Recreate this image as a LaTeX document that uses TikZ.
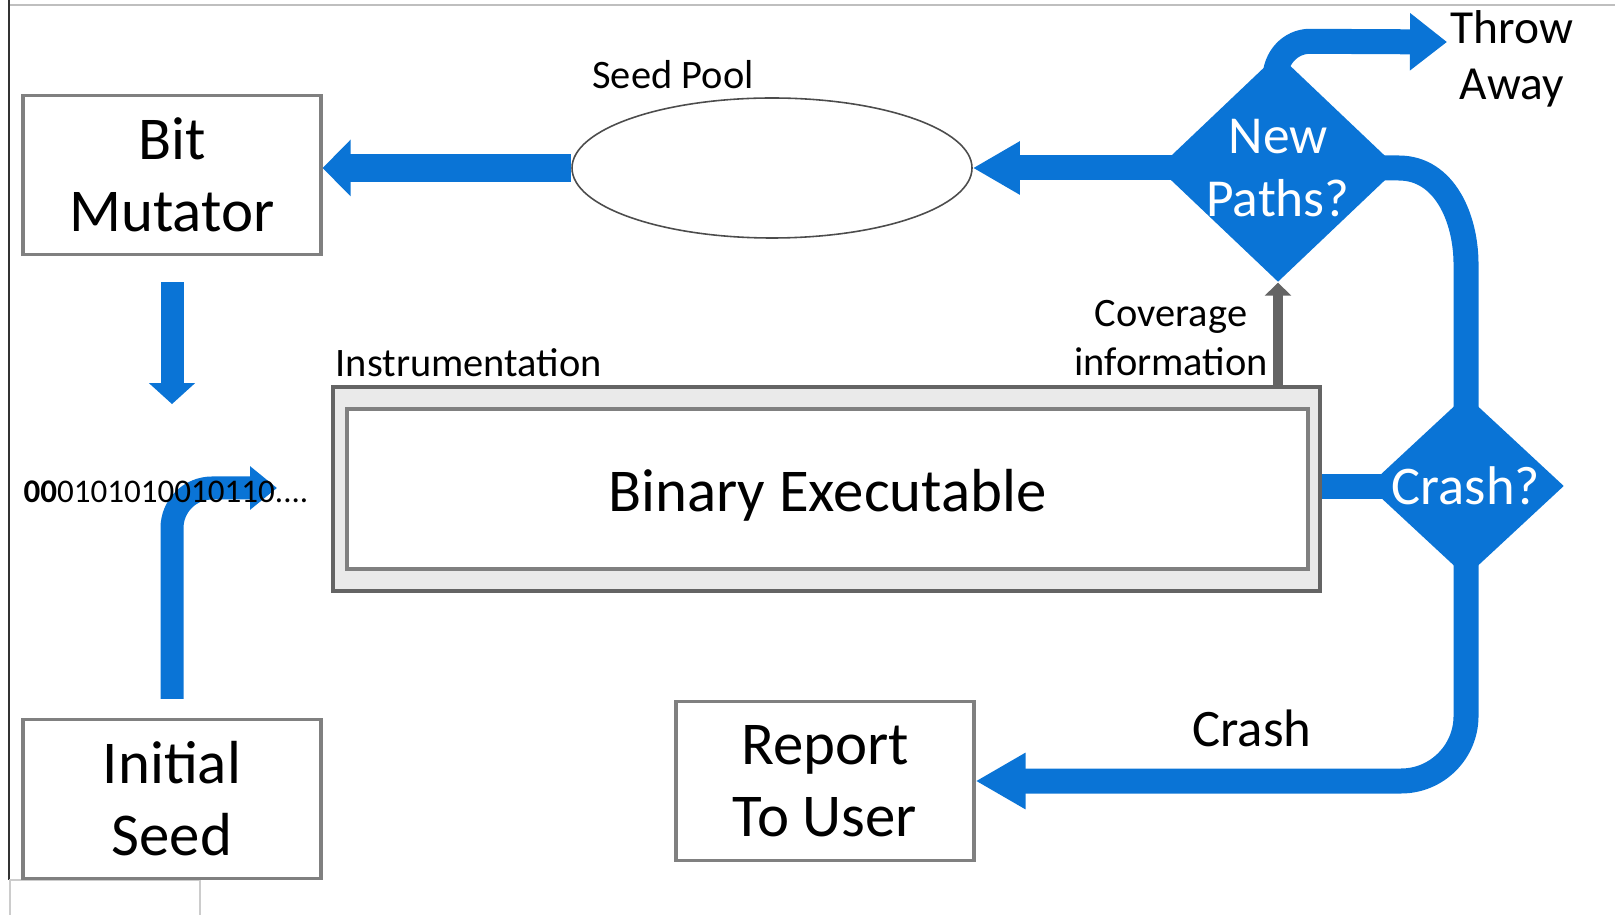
\documentclass[tikz,border=0pt]{standalone}
\usepackage{fontspec}
\setmainfont{Carlito}
\usepackage{tikz}
\usetikzlibrary{shapes.geometric,arrows.meta,positioning,calc,backgrounds}
\definecolor{fuzzblue}{RGB}{10,116,214}
\definecolor{framegrey}{RGB}{128,128,128}
\definecolor{panelgrey}{RGB}{234,234,234}
\definecolor{edgegrey}{RGB}{100,100,100}

\begin{document}
\begin{tikzpicture}[
        box/.style={draw=framegrey, line width=0.9pt, fill=white, minimum width=2.98cm, minimum height=1.59cm, align=center, font=\fontsize{17.3}{20.5}\selectfont},
        decision/.style={diamond, fill=fuzzblue, text=white, inner sep=-0.15cm, align=center, font=\fontsize{15.2}{18}\selectfont},
        note/.style={inner sep=0, align=center, font=\fontsize{11.5}{14}\selectfont},
        flow/.style={draw=fuzzblue, line width=0.25cm}
    ]
        \useasboundingbox (0,0) rectangle (16.15,9.15);

        % Slide frame
        \draw[black!25, line width=0.4pt] (0.09,9.10) -- (16.15,9.10);
        \draw[black!80, line width=0.5pt] (0.09,9.15) -- (0.09,0.35);
        \draw[black!20, line width=0.4pt] (0.09,0.35) -- (2.00,0.35) -- (2.00,0) (0.10,0.35) -- (0.10,0);

        % Boxes
        \node[box] (mutator) at (1.72,7.40) {Bit\\Mutator};
        \node[box] (seed) at (1.72,1.16) {Initial\\Seed};
        \node[box] (report) at (8.25,1.34) {Report\\To User};

        % Seed pool
        \node[ellipse, draw=black!70, line width=0.45pt, minimum width=4.0cm, minimum height=1.4cm] (pool) at (7.72,7.47) {};
        \node[note, anchor=base] (poollabel) at (6.73,8.26) {Seed Pool};

        % Instrumented binary
        \node[draw=edgegrey, fill=panelgrey, line width=1.2pt, minimum width=9.87cm, minimum height=2.04cm] (panel) at (8.265,4.26) {};
        \node[draw=framegrey, fill=white, line width=0.9pt, minimum width=9.61cm, minimum height=1.60cm, text height=0.55cm, font=\fontsize{17.3}{20}\selectfont] (binary) at (8.275,4.26) {Binary Executable};
        \node[note, anchor=base west] (instr) at (3.35,5.38) {Instrumentation};
        \node[note, anchor=south] (coverage) at (11.71,5.38) {Coverage\\information};

        % Decisions
        \node[decision, minimum width=2.40cm, minimum height=2.28cm] (newpaths) at (12.78,7.47) {New\\Paths?};
        \node[decision, minimum width=1.96cm, minimum height=1.82cm, font=\fontsize{15.5}{18}\selectfont] (crashq) at (14.66,4.29) {Crash?};

        \coordinate (feed) at (2.77,4.27);
        \coordinate (discard) at (14.47,8.73);

        % Blue flow arrows
        \begin{scope}[on background layer]
            \draw[flow, -{Triangle[length=0.47cm, width=0.50cm]}] (newpaths.center) -- (pool.east);
            \draw[flow, line width=0.28cm, -{Triangle[length=0.28cm, width=0.55cm]}] (pool.west) -- (mutator.east |- pool.west);
            \draw[flow, line width=0.23cm, shorten <=0.26cm, -{Triangle[length=0.21cm, width=0.45cm]}] (mutator.south) -- ++(0,-1.48);
            \draw[flow, line width=0.23cm, rounded corners=0.4cm, shorten <=0.19cm, -{Triangle[length=0.27cm, width=0.42cm]}] (seed.north) |- (feed);
            \draw[flow] (panel.east |- crashq.west) -- (crashq.center);
            \draw[flow] (newpaths.center) -- (newpaths.east) to[out=0, in=90] ($(crashq.north)+(0,1.3)$) -- (crashq.center);
            \draw[flow, rounded corners=0.65cm, -{Triangle[length=0.5cm, width=0.53cm]}] (crashq.center) |- (report.east);
            \draw[flow, -{Triangle[length=0.37cm, width=0.55cm]}] ($(newpaths.north)+(-0.03,-0.25)$) to[out=90, in=180] ++(0.35,0.37) -- (discard);
        \end{scope}

        % Coverage feedback
        \draw[edgegrey, line width=0.1cm, -{Triangle[length=0.13cm, width=0.26cm]}] (panel.north -| newpaths.south) -- (newpaths.south);

        % Labels
        \node[inner sep=0, anchor=base, font=\fontsize{15}{17}\selectfont] (crashlabel) at (12.52,1.69) {Crash};
        \node[inner sep=0, anchor=north, align=center, font=\fontsize{13.5}{16}\selectfont] (throwaway) at (15.12,9.05) {Throw\\Away};
        \node[inner sep=0, anchor=base west, font=\fontsize{9.4}{11}\selectfont] (bits) at (0.23,4.12) {\textbf{00}0101010010110....};
    \end{tikzpicture}
\end{document}
